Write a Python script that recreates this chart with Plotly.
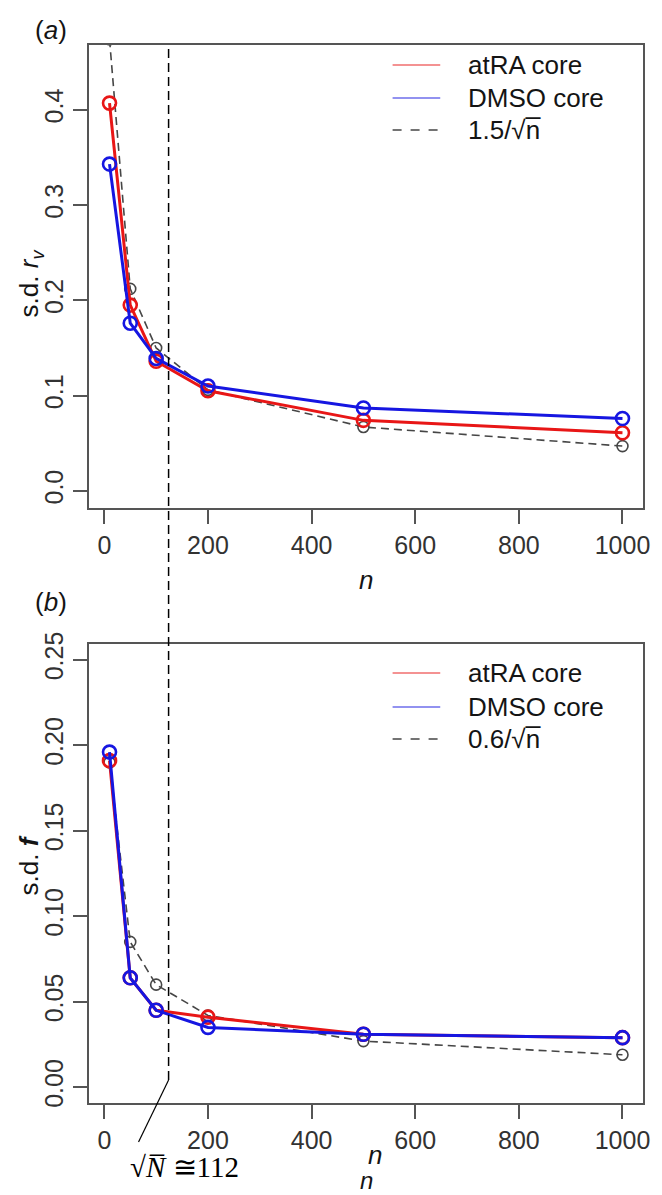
import plotly.graph_objects as go

# ---------------- data ----------------
n_values = [10, 50, 100, 200, 500, 1000]

# panel (a): s.d. r_v
a_atra = [0.407, 0.195, 0.136, 0.105, 0.074, 0.061]
a_dmso = [0.343, 0.176, 0.139, 0.110, 0.087, 0.076]
a_ref = [0.474, 0.212, 0.150, 0.106, 0.067, 0.047]   # 1.5/sqrt(n) curve as drawn

# panel (b): s.d. f
b_atra = [0.191, 0.064, 0.045, 0.041, 0.031, 0.029]
b_dmso = [0.196, 0.064, 0.045, 0.035, 0.031, 0.029]
b_ref = [0.190, 0.085, 0.060, 0.042, 0.027, 0.019]   # 0.6/sqrt(n) curve as drawn

x_ticks = [0, 200, 400, 600, 800, 1000]
a_yticks = [0.0, 0.1, 0.2, 0.3, 0.4]
a_yticklabels = ["0.0", "0.1", "0.2", "0.3", "0.4"]
b_yticks = [0.00, 0.05, 0.10, 0.15, 0.20, 0.25]
b_yticklabels = ["0.00", "0.05", "0.10", "0.15", "0.20", "0.25"]

series_names = ["atRA core", "DMSO core"]
a_ref_name = "1.5/√n̅"
b_ref_name = "0.6/√n̅"

vline_n = 124        # position of the hand-drawn vertical marker line
leader_n = 66        # lower end of the slanted leader line
sqrtN_label = "√<i>N̅</i> ≅112"

# ---------------- style ----------------
RED = "rgb(232,22,22)"
BLUE = "rgb(22,22,225)"
GREY = "rgb(70,70,70)"
LEG_RED = "rgb(240,110,110)"
LEG_BLUE = "rgb(110,110,235)"
FONT = "Liberation Sans, Arial, sans-serif"
SERIF = "Liberation Serif, Times New Roman, serif"

W, H = 662, 1195
ML, MR, MT, MB = 89, 15, 45, 92
PW, PH = W - ML - MR, H - MT - MB


def px_x(px):
    return (px - ML) / PW


def px_y(py):
    return (H - MB - py) / PH


fig = go.Figure()


def add_panel(xa, ya, ref, atra, dmso):
    fig.add_trace(go.Scatter(
        x=n_values, y=ref, mode="lines+markers", xaxis=xa, yaxis=ya,
        line=dict(color=GREY, width=1.6, dash="8px,5px"),
        marker=dict(symbol="circle-open", size=11, color=GREY, line=dict(width=1.6, color=GREY)),
        showlegend=False, cliponaxis=True))
    fig.add_trace(go.Scatter(
        x=n_values, y=atra, mode="lines+markers", xaxis=xa, yaxis=ya,
        line=dict(color=RED, width=3),
        marker=dict(symbol="circle-open", size=13, color=RED, line=dict(width=2.6, color=RED)),
        showlegend=False, cliponaxis=True))
    fig.add_trace(go.Scatter(
        x=n_values, y=dmso, mode="lines+markers", xaxis=xa, yaxis=ya,
        line=dict(color=BLUE, width=3),
        marker=dict(symbol="circle-open", size=13, color=BLUE, line=dict(width=2.6, color=BLUE)),
        showlegend=False, cliponaxis=True))


add_panel("x", "y", a_ref, a_atra, a_dmso)
add_panel("x2", "y2", b_ref, b_atra, b_dmso)

axis_common = dict(showline=True, linecolor="rgb(85,85,85)", linewidth=1.5, mirror=True,
                   ticks="outside", ticklen=14, tickwidth=1.5, tickcolor="rgb(85,85,85)",
                   showgrid=False, zeroline=False,
                   tickfont=dict(family=FONT, size=25, color="rgb(50,50,50)"))

dom_a = [px_y(508), 1.0]
dom_b = [0.0, px_y(644)]

fig.update_layout(
    width=W, height=H,
    margin=dict(l=ML, r=MR, t=MT, b=MB, pad=0),
    paper_bgcolor="white", plot_bgcolor="white",
    showlegend=False,
    xaxis=dict(domain=[0, 1], anchor="y", range=[-29.6, 1039.6],
               tickvals=x_ticks, ticktext=[str(v) for v in x_ticks], **axis_common),
    yaxis=dict(domain=dom_a, anchor="x", range=[-0.018, 0.468],
               tickvals=a_yticks, ticktext=a_yticklabels, tickangle=-90, **axis_common),
    xaxis2=dict(domain=[0, 1], anchor="y2", range=[-29.6, 1039.6],
                tickvals=x_ticks, ticktext=[str(v) for v in x_ticks], **axis_common),
    yaxis2=dict(domain=dom_b, anchor="x2", range=[-0.0092, 0.2592],
                tickvals=b_yticks, ticktext=b_yticklabels, tickangle=-90, **axis_common),
)

shapes = []
anns = []

# manual legends
def legend(xref, yref, ys, ref_name):
    colors = [LEG_RED, LEG_BLUE, GREY]
    dashes = ["solid", "solid", "dash"]
    labels = series_names + [ref_name]
    for yy, c, d, lab in zip(ys, colors, dashes, labels):
        shapes.append(dict(type="line", xref=xref + " domain", yref=yref + " domain",
                           x0=0.548, x1=0.634, y0=yy, y1=yy,
                           line=dict(color=c, width=1.6, dash=d)))
        anns.append(dict(xref=xref + " domain", yref=yref + " domain", x=0.681, y=yy,
                         xanchor="left", yanchor="middle", text=lab, showarrow=False,
                         font=dict(family=FONT, size=26, color="rgb(20,20,20)")))


legend("x", "y", [(508 - 65) / 463, (508 - 98) / 463, (508 - 130) / 463], a_ref_name)
legend("x2", "y2", [(1103 - 673) / 459, (1103 - 707) / 459, (1103 - 739) / 459], b_ref_name)

# vertical marker line spanning both panels, plus leader line
shapes.append(dict(type="line", xref="x", yref="paper", x0=vline_n, x1=vline_n,
                   y0=px_y(1080), y1=1.0, line=dict(color="black", width=1.5, dash="9px,5px")))
shapes.append(dict(type="line", xref="x2", yref="paper", x0=vline_n, x1=leader_n,
                   y0=px_y(1080), y1=px_y(1142), line=dict(color="black", width=1.2)))

# text annotations
def txt(x, y, text, size=26, family=FONT, angle=0, color="rgb(20,20,20)"):
    anns.append(dict(xref="paper", yref="paper", x=px_x(x), y=px_y(y), text=text,
                     showarrow=False, xanchor="center", yanchor="middle", textangle=angle,
                     font=dict(family=family, size=size, color=color)))


txt(51, 30, "(<i>a</i>)")
txt(51, 602, "(<i>b</i>)")
txt(368, 580, "<i>n</i>")
txt(377, 1155, "<i>n</i>")
txt(368, 1180, "<i>n</i>", size=24)
txt(30, 283, "s.d. <i>r</i><sub><i>v</i></sub>", angle=-90)
txt(29, 865, "s.d. <i><b>f</b></i>", angle=-90)
txt(185, 1167, sqrtN_label, size=29, family=SERIF, color="black")

fig.update_layout(shapes=shapes, annotations=anns)

fig.write_html("out.html")
